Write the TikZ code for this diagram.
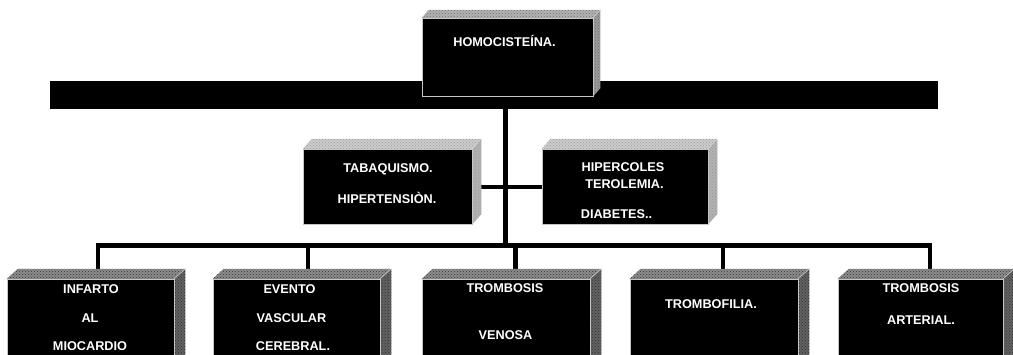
\documentclass[tikz,border=0pt]{standalone}
\usepackage{fontspec}
\setmainfont{Liberation Sans}
\usetikzlibrary{patterns}
\newcommand{\boxbevel}[6]{%
  \fill[#4] (#1.north west) -- ++(#2,-#3) -- ([shift={(#2,-#3)}]#1.north east) -- (#1.north east) -- cycle;
  \fill[#5] (#1.north east) -- ++(#2,-#3) -- ([shift={(#2,-#3)}]#1.south east) -- (#1.south east) -- cycle;
  \fill[pattern=crosshatch dots, pattern color=#6] (#1.north west) -- ++(#2,-#3) -- ([shift={(#2,-#3)}]#1.north east) -- ([shift={(#2,-#3)}]#1.south east) -- (#1.south east) -- (#1.north east) -- cycle;
  \draw[white!70!gray, line width=0.5pt] (#1.north east) -- ++(#2,-#3);
}
\begin{document}
\begin{tikzpicture}[x=1pt,y=-1pt,
  face/.style={rectangle, fill=black, draw=gray!45, line width=0.5pt, inner sep=0pt},
  lbl/.style={text=white, font=\fontsize{12.7}{15}\selectfont\bfseries, inner sep=0pt, anchor=base},
  wire/.style={line width=4.5pt, draw=black},
  topc/.style={fill=black!30}, sidec/.style={fill=black!40},
  midtop/.style={fill=black!20}, midside/.style={fill=black!30},
  lowtop/.style={fill=black!45}, lowside/.style={fill=black!62}]
\useasboundingbox (0,0) rectangle (1013,354);
\clip (0,0) rectangle (1013,354);
% bar
\node[rectangle, fill=black, inner sep=0pt, minimum width=888pt, minimum height=28pt] (bar) at (494,95) {};
% connector coordinates
\coordinate (ta) at (505.5,100);
\coordinate (tb) at (505.5,245.5);
\coordinate (d1) at (98,272);
\coordinate (d2) at (308,272);
\coordinate (d3) at (515.5,272);
\coordinate (d4) at (723,272);
\coordinate (d5) at (930,272);
% nodes (front faces)
\node[face, minimum width=171pt, minimum height=78pt] (top) at (507.5,57) {};
\node[face, minimum width=169pt, minimum height=75pt] (m1) at (387.5,186.5) {};
\node[face, minimum width=166pt, minimum height=75pt] (m2) at (625,186.5) {};
\node[face, minimum width=167pt, minimum height=91pt] (b1) at (90.5,324.5) {};
\node[face, minimum width=167pt, minimum height=91pt] (b2) at (296.5,324.5) {};
\node[face, minimum width=168pt, minimum height=91pt] (b3) at (506,324.5) {};
\node[face, minimum width=168pt, minimum height=91pt] (b4) at (714,324.5) {};
\node[face, minimum width=165pt, minimum height=91pt] (b5) at (920.5,324.5) {};
% wires
\draw[wire] (ta) -- (tb);
\draw[wire, line width=4pt] (m1.east) -- (m2.west);
\draw[wire, line join=miter] (d1) -- (d1 |- tb) -- (d5 |- tb) -- (d5);
\draw[wire] (d2 |- tb) -- (d2);
\draw[wire] (d3 |- tb) -- (d3);
\draw[wire] (d4 |- tb) -- (d4);
% bevels
\boxbevel{top}{7}{8}{topc}{sidec}{black!55}
\boxbevel{m1}{9}{10}{midtop}{midside}{black!40}
\boxbevel{m2}{9}{10}{midtop}{midside}{black!40}
\boxbevel{b1}{11}{10}{lowtop}{lowside}{black!80}
\boxbevel{b2}{11}{10}{lowtop}{lowside}{black!80}
\boxbevel{b3}{11}{10}{lowtop}{lowside}{black!80}
\boxbevel{b4}{11}{10}{lowtop}{lowside}{black!80}
\boxbevel{b5}{11}{10}{lowtop}{lowside}{black!80}
% redraw fronts on top
\node[face, minimum width=171pt, minimum height=78pt] at (top) {};
\node[face, minimum width=169pt, minimum height=75pt] at (m1) {};
\node[face, minimum width=166pt, minimum height=75pt] at (m2) {};
\node[face, minimum width=167pt, minimum height=91pt] at (b1) {};
\node[face, minimum width=167pt, minimum height=91pt] at (b2) {};
\node[face, minimum width=168pt, minimum height=91pt] at (b3) {};
\node[face, minimum width=168pt, minimum height=91pt] at (b4) {};
\node[face, minimum width=165pt, minimum height=91pt] at (b5) {};
% labels
\node[lbl] (l0) at (504.5,46) {HOMOCISTEÍNA.};
\node[lbl] (l1a) at (388,172.5) {TABAQUISMO.};
\node[lbl] (l1b) at (387,203.5) {HIPERTENSIÒN.};
\node[lbl] (l2a) at (623,171.5) {HIPERCOLES};
\node[lbl] (l2b) at (624.5,188) {TEROLEMIA.};
\node[lbl] (l2c) at (616.5,218) {DIABETES..};
\node[lbl] (l3a) at (91,293) {INFARTO};
\node[lbl] (l3b) at (90,322) {AL};
\node[lbl] (l3c) at (90,350) {MIOCARDIO};
\node[lbl] (l4a) at (289.5,293) {EVENTO};
\node[lbl] (l4b) at (291.5,322) {VASCULAR};
\node[lbl] (l4c) at (293,350) {CEREBRAL.};
\node[lbl] (l5a) at (505,292.2) {TROMBOSIS};
\node[lbl] (l5b) at (505.5,339) {VENOSA};
\node[lbl] (l6a) at (711,308.5) {TROMBOFILIA.};
\node[lbl] (l7a) at (921,292.5) {TROMBOSIS};
\node[lbl] (l7b) at (921,324.8) {ARTERIAL.};
\end{tikzpicture}
\end{document}
